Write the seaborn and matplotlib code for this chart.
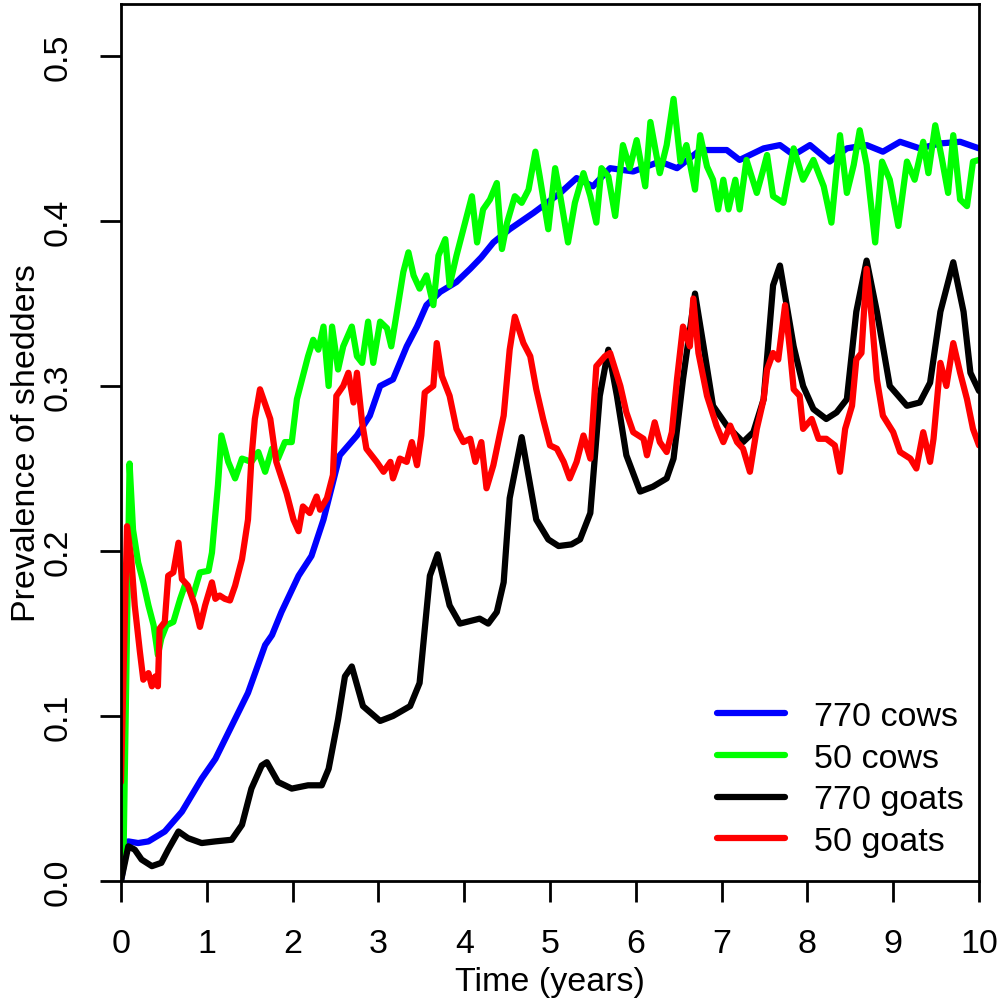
import matplotlib
matplotlib.use("Agg")
import matplotlib.pyplot as plt
import seaborn as sns
import pandas as pd
from matplotlib.ticker import FormatStrFormatter, MultipleLocator

# 770 cows (blue)
blue_t = [0.00, 0.04, 0.085, 0.20, 0.32, 0.51, 0.71, 0.94, 1.10, 1.29,
          1.48, 1.68, 1.76, 1.87, 2.07, 2.22, 2.36, 2.55, 2.75, 2.90,
          3.02, 3.17, 3.33, 3.45, 3.56, 3.72, 3.91, 4.07, 4.20, 4.34,
          4.53, 4.81, 5.12, 5.31, 5.50, 5.70, 5.97, 6.28, 6.48, 6.75,
          7.06, 7.21, 7.49, 7.68, 7.84, 8.03, 8.26, 8.46, 8.69, 8.88,
          9.08, 9.31, 9.55, 9.78, 10.0]
blue_v = [0.000, 0.012, 0.024, 0.023, 0.024, 0.030, 0.042, 0.062, 0.074, 0.094,
          0.114, 0.143, 0.149, 0.163, 0.185, 0.197, 0.219, 0.258, 0.270, 0.282,
          0.300, 0.304, 0.324, 0.336, 0.349, 0.357, 0.363, 0.371, 0.378, 0.387,
          0.395, 0.405, 0.417, 0.426, 0.421, 0.432, 0.430, 0.436, 0.432, 0.443,
          0.443, 0.437, 0.444, 0.446, 0.440, 0.446, 0.436, 0.444, 0.446, 0.442,
          0.448, 0.444, 0.447, 0.448, 0.444]

# 50 cows (green)
green_t = [0.00, 0.03, 0.10, 0.14, 0.20, 0.26, 0.32, 0.38, 0.43, 0.47,
           0.53, 0.61, 0.69, 0.75, 0.84, 0.92, 1.02, 1.06, 1.13, 1.17,
           1.25, 1.33, 1.41, 1.52, 1.60, 1.68, 1.76, 1.83, 1.91, 1.99,
           2.05, 2.12, 2.18, 2.24, 2.30, 2.36, 2.42, 2.46, 2.53, 2.59,
           2.69, 2.75, 2.81, 2.88, 2.94, 3.02, 3.10, 3.15, 3.21, 3.29,
           3.35, 3.41, 3.48, 3.56, 3.64, 3.70, 3.78, 3.83, 3.91, 3.99,
           4.03, 4.09, 4.15, 4.22, 4.30, 4.38, 4.44, 4.50, 4.59, 4.67,
           4.75, 4.83, 4.88, 4.98, 5.06, 5.12, 5.21, 5.29, 5.39, 5.47,
           5.54, 5.60, 5.68, 5.76, 5.85, 5.93, 6.01, 6.11, 6.17, 6.24,
           6.28, 6.36, 6.44, 6.52, 6.59, 6.69, 6.75, 6.83, 6.90, 6.96,
           7.02, 7.08, 7.16, 7.21, 7.29, 7.41, 7.49, 7.53, 7.60, 7.72,
           7.84, 7.95, 8.07, 8.19, 8.28, 8.38, 8.46, 8.54, 8.61, 8.69,
           8.79, 8.87, 8.96, 9.06, 9.16, 9.25, 9.35, 9.41, 9.49, 9.57,
           9.64, 9.70, 9.78, 9.86, 9.93, 10.0]
green_v = [0.015, 0.017, 0.253, 0.213, 0.193, 0.181, 0.167, 0.155, 0.137, 0.147,
           0.155, 0.157, 0.171, 0.180, 0.173, 0.187, 0.188, 0.199, 0.240, 0.270,
           0.254, 0.244, 0.256, 0.254, 0.260, 0.248, 0.262, 0.256, 0.266, 0.266,
           0.292, 0.306, 0.318, 0.328, 0.322, 0.336, 0.300, 0.336, 0.310, 0.324,
           0.336, 0.318, 0.314, 0.339, 0.314, 0.339, 0.335, 0.324, 0.343, 0.369,
           0.381, 0.367, 0.359, 0.367, 0.349, 0.379, 0.389, 0.361, 0.379, 0.395,
           0.403, 0.415, 0.387, 0.407, 0.413, 0.423, 0.383, 0.399, 0.415, 0.411,
           0.419, 0.442, 0.427, 0.395, 0.432, 0.415, 0.387, 0.411, 0.429, 0.415,
           0.399, 0.432, 0.427, 0.403, 0.446, 0.432, 0.449, 0.421, 0.460, 0.440,
           0.429, 0.446, 0.474, 0.436, 0.446, 0.419, 0.452, 0.433, 0.425, 0.407,
           0.425, 0.407, 0.425, 0.407, 0.437, 0.417, 0.432, 0.440, 0.415, 0.411,
           0.444, 0.425, 0.437, 0.421, 0.399, 0.452, 0.417, 0.434, 0.455, 0.434,
           0.387, 0.436, 0.425, 0.397, 0.436, 0.425, 0.448, 0.429, 0.458, 0.437,
           0.417, 0.452, 0.413, 0.409, 0.436, 0.437]

# 770 goats (black)
black_t = [0.00, 0.085, 0.16, 0.24, 0.36, 0.47, 0.55, 0.67, 0.78, 0.94,
           1.10, 1.29, 1.41, 1.52, 1.64, 1.70, 1.83, 1.99, 2.18, 2.34,
           2.42, 2.53, 2.61, 2.69, 2.82, 3.02, 3.17, 3.37, 3.48, 3.60,
           3.69, 3.83, 3.95, 4.18, 4.28, 4.38, 4.46, 4.53, 4.67, 4.84,
           4.98, 5.10, 5.25, 5.35, 5.47, 5.58, 5.68, 5.78, 5.89, 6.05,
           6.20, 6.36, 6.44, 6.55, 6.69, 6.79, 6.90, 7.06, 7.25, 7.37,
           7.49, 7.60, 7.68, 7.84, 7.95, 8.07, 8.22, 8.34, 8.46, 8.57,
           8.69, 8.81, 8.96, 9.16, 9.31, 9.43, 9.55, 9.70, 9.82, 9.90,
           10.0]
black_v = [0.000, 0.021, 0.019, 0.013, 0.009, 0.011, 0.019, 0.030, 0.026, 0.023,
           0.024, 0.025, 0.034, 0.056, 0.070, 0.072, 0.060, 0.056, 0.058, 0.058,
           0.068, 0.098, 0.124, 0.130, 0.106, 0.097, 0.100, 0.106, 0.120, 0.185,
           0.198, 0.167, 0.156, 0.159, 0.156, 0.163, 0.181, 0.232, 0.269, 0.219,
           0.207, 0.203, 0.204, 0.207, 0.223, 0.294, 0.322, 0.294, 0.258, 0.236,
           0.239, 0.244, 0.256, 0.304, 0.356, 0.324, 0.288, 0.276, 0.266, 0.272,
           0.292, 0.361, 0.373, 0.324, 0.300, 0.286, 0.280, 0.284, 0.292, 0.345,
           0.376, 0.345, 0.300, 0.288, 0.290, 0.302, 0.345, 0.375, 0.345, 0.308,
           0.297]

# 50 goats (red)
red_t = [0.00, 0.07, 0.12, 0.16, 0.22, 0.26, 0.32, 0.36, 0.40, 0.43,
         0.45, 0.51, 0.55, 0.61, 0.67, 0.71, 0.78, 0.86, 0.92, 0.98,
         1.06, 1.10, 1.15, 1.21, 1.27, 1.33, 1.41, 1.48, 1.52, 1.56,
         1.62, 1.74, 1.81, 1.93, 2.01, 2.07, 2.12, 2.20, 2.28, 2.32,
         2.40, 2.47, 2.51, 2.59, 2.65, 2.71, 2.75, 2.81, 2.86, 2.98,
         3.06, 3.14, 3.17, 3.25, 3.33, 3.39, 3.45, 3.50, 3.54, 3.64,
         3.68, 3.74, 3.83, 3.91, 3.99, 4.07, 4.13, 4.20, 4.26, 4.34,
         4.46, 4.53, 4.59, 4.69, 4.77, 4.84, 4.92, 5.00, 5.08, 5.16,
         5.23, 5.31, 5.39, 5.47, 5.54, 5.64, 5.70, 5.82, 5.89, 5.97,
         6.09, 6.13, 6.22, 6.28, 6.36, 6.42, 6.48, 6.55, 6.63, 6.67,
         6.73, 6.83, 6.94, 7.02, 7.10, 7.18, 7.25, 7.33, 7.41, 7.49,
         7.53, 7.60, 7.66, 7.74, 7.80, 7.84, 7.91, 7.95, 8.05, 8.13,
         8.22, 8.32, 8.38, 8.44, 8.52, 8.57, 8.63, 8.69, 8.75, 8.81,
         8.88, 9.00, 9.08, 9.20, 9.27, 9.35, 9.43, 9.47, 9.55, 9.62,
         9.70, 9.78, 9.86, 9.93, 10.0]
red_v = [0.060, 0.215, 0.195, 0.167, 0.139, 0.122, 0.126, 0.118, 0.124, 0.118,
         0.153, 0.157, 0.185, 0.187, 0.205, 0.183, 0.179, 0.167, 0.154, 0.167,
         0.181, 0.171, 0.173, 0.171, 0.170, 0.179, 0.195, 0.219, 0.256, 0.280,
         0.298, 0.280, 0.254, 0.235, 0.219, 0.212, 0.227, 0.223, 0.233, 0.225,
         0.232, 0.246, 0.294, 0.300, 0.308, 0.290, 0.308, 0.278, 0.262, 0.254,
         0.248, 0.254, 0.244, 0.256, 0.254, 0.266, 0.252, 0.270, 0.296, 0.300,
         0.326, 0.306, 0.294, 0.274, 0.266, 0.268, 0.254, 0.266, 0.238, 0.252,
         0.282, 0.322, 0.342, 0.326, 0.318, 0.298, 0.280, 0.264, 0.262, 0.254,
         0.244, 0.254, 0.270, 0.256, 0.312, 0.318, 0.320, 0.300, 0.284, 0.272,
         0.268, 0.258, 0.278, 0.266, 0.260, 0.272, 0.304, 0.336, 0.324, 0.353,
         0.320, 0.294, 0.276, 0.266, 0.276, 0.266, 0.262, 0.248, 0.274, 0.292,
         0.310, 0.320, 0.316, 0.349, 0.320, 0.298, 0.294, 0.274, 0.280, 0.268,
         0.268, 0.264, 0.248, 0.274, 0.288, 0.316, 0.320, 0.371, 0.341, 0.304,
         0.282, 0.272, 0.260, 0.256, 0.250, 0.272, 0.254, 0.268, 0.314, 0.300,
         0.326, 0.308, 0.292, 0.274, 0.264]

series = [
    ("770 cows", blue_t, blue_v, "#0000ff"),
    ("50 cows", green_t, green_v, "#00ff00"),
    ("770 goats", black_t, black_v, "#000000"),
    ("50 goats", red_t, red_v, "#ff0000"),
]

FS = 24.5

sns.set_style("ticks")
plt.rcParams['font.family'] = ['Liberation Sans', 'DejaVu Sans']
plt.rcParams['text.color'] = 'black'
plt.rcParams['axes.labelcolor'] = 'black'

fig = plt.figure(figsize=(10.03, 10.03), dpi=100)
ax = fig.add_axes([121 / 1003, 121 / 1003, 858 / 1003, 877 / 1003])

for label, t, v, color in series:
    df = pd.DataFrame({"t": t, "v": v})
    sns.lineplot(data=df, x="t", y="v", color=color, lw=4.5, label=label,
                 ax=ax, estimator=None, sort=False,
                 solid_joinstyle='round', solid_capstyle='round')

ax.set_xlim(0, 10)
ax.set_ylim(0, 0.5315)
ax.xaxis.set_major_locator(MultipleLocator(1))
ax.yaxis.set_major_locator(MultipleLocator(0.1))
ax.yaxis.set_major_formatter(FormatStrFormatter('%.1f'))
ax.tick_params(direction='out', length=15, width=2, labelsize=FS, pad=19,
               colors='black')
ax.tick_params(axis='y', labelrotation=90)
for lbl in ax.get_yticklabels():
    lbl.set_va('center')

for sp in ax.spines.values():
    sp.set_visible(True)
    sp.set_linewidth(2)
    sp.set_color('black')

ax.set_xlabel("Time (years)", fontsize=FS, color='black')
ax.set_ylabel("Prevalence of shedders", fontsize=FS, color='black')
ax.xaxis.set_label_coords(0.5, -0.097)
ax.yaxis.set_label_coords(-0.092, 0.5)

ax.legend(loc='lower left', bbox_to_anchor=(717 / 1003, 145 / 1003),
          bbox_transform=fig.transFigure, frameon=False, fontsize=FS,
          handlelength=2.0, handletextpad=0.85, labelspacing=0.31,
          borderpad=0, borderaxespad=0)

fig.savefig("out.png", dpi=100)
plt.close(fig)
